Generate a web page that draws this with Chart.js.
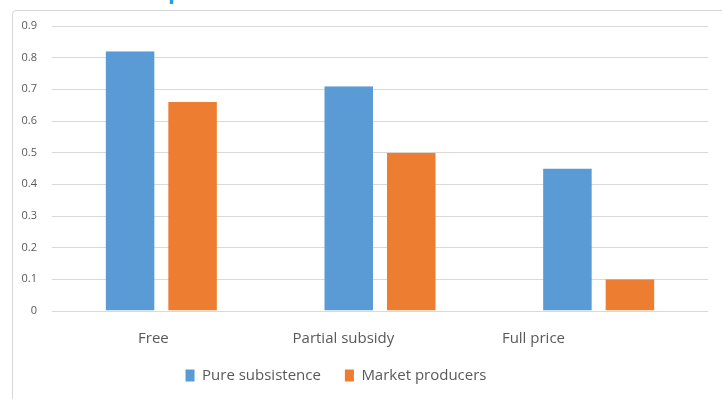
<!DOCTYPE html>
<html>
<head>
<meta charset="utf-8">
<script src="https://cdn.jsdelivr.net/npm/chart.js@4/dist/chart.umd.min.js"></script>
<style>
  html, body { margin: 0; padding: 0; background: #ffffff; }
  #wrap { position: relative; width: 722px; height: 399px; overflow: hidden; background: #fff; }
  #frame { position: absolute; left: 12px; top: 10px; width: 740px; height: 430px;
           border: 1px solid #d6d6d6; border-radius: 4px; box-sizing: border-box; }
  #title { position: absolute; left: 13px; top: -21px; font: bold 22px 'Open Sans', sans-serif;
           line-height: 22px; color: #22a0da; white-space: nowrap; }
  canvas { position: absolute; left: 0; top: 0; }
</style>
</head>
<body>
<div id="wrap">
  <div id="title">Share at each price</div>
  <div id="frame"></div>
  <canvas id="c" width="722" height="399"></canvas>
</div>
<script>
const categories = ['Free', 'Partial subsidy', 'Full price'];
const pureSubsistence = [0.82, 0.71, 0.45];
const marketProducers = [0.66, 0.50, 0.10];
const seriesNames = ['Pure subsistence', 'Market producers'];
const yTicks = [0, 0.1, 0.2, 0.3, 0.4, 0.5, 0.6, 0.7, 0.8, 0.9];

const TEXT = '#595959';
const LABEL_SQUEEZE = 0.869;   // category labels sit closer together than the bars
const LABEL_BASE = 13.2;
const LEGEND_CENTER_X = 336;

const categoryLabels = {
  id: 'categoryLabels',
  afterDraw(chart) {
    const x = chart.scales.x, ctx = chart.ctx;
    ctx.save();
    ctx.font = '15px "Open Sans", sans-serif';
    ctx.fillStyle = TEXT;
    ctx.textAlign = 'center';
    ctx.textBaseline = 'middle';
    categories.forEach((c, i) => {
      const px = LABEL_BASE + LABEL_SQUEEZE * x.getPixelForTick(i);
      ctx.fillText(c, px, x.top + 28);
    });
    ctx.restore();
  }
};

const legendShift = {
  id: 'legendShift',
  afterLayout(chart) {
    const lg = chart.legend;
    if (!lg || !lg.lineWidths) return;
    const pad = lg.options.labels.padding;
    const start = (lg.left + pad + lg.right - lg.lineWidths[0]) / 2;
    const center = start + (lg.lineWidths[0] - pad) / 2;
    const dx = LEGEND_CENTER_X - center;
    lg.left += dx; lg.right += dx;
  }
};

const gap = {left: 7, right: 7, top: 0, bottom: 0};

new Chart(document.getElementById('c'), {
  type: 'bar',
  data: {
    labels: categories,
    datasets: [
      { label: seriesNames[0], data: pureSubsistence, backgroundColor: '#5b9bd5',
        borderColor: 'rgba(0,0,0,0)', borderWidth: gap, borderSkipped: false },
      { label: seriesNames[1], data: marketProducers, backgroundColor: '#ed7d31',
        borderColor: 'rgba(0,0,0,0)', borderWidth: gap, borderSkipped: false }
    ]
  },
  options: {
    responsive: false,
    animation: false,
    layout: { padding: { left: 12, right: 14, top: 26, bottom: 6 } },
    datasets: { bar: { categoryPercentage: 0.5717, barPercentage: 1.0 } },
    plugins: {
      tooltip: { enabled: false },
      legend: {
        position: 'bottom',
        labels: {
          boxWidth: 9, boxHeight: 12, padding: 24, color: TEXT,
          font: { family: 'Open Sans', size: 15 },
          generateLabels(chart) {
            return chart.data.datasets.map((d, i) => ({
              text: d.label, fillStyle: d.backgroundColor, strokeStyle: d.backgroundColor,
              lineWidth: 0, hidden: false, datasetIndex: i, fontColor: TEXT
            }));
          }
        }
      }
    },
    scales: {
      x: {
        grid: { display: false, drawTicks: false },
        border: { display: false },
        ticks: { display: false },
        afterFit(s) { s.height = 33; }
      },
      y: {
        min: 0, max: 0.9,
        afterBuildTicks(s) { s.ticks = yTicks.map(v => ({ value: v })); },
        grid: { color: '#d9d9d9', lineWidth: 1, drawTicks: false },
        border: { display: false },
        ticks: { padding: 15, color: TEXT, font: { family: 'Open Sans', size: 11 },
                 callback: v => String(Math.round(v * 10) / 10) },
        afterFit(s) { s.width = 40; }
      }
    }
  },
  plugins: [categoryLabels, legendShift]
});
</script>
</body>
</html>
